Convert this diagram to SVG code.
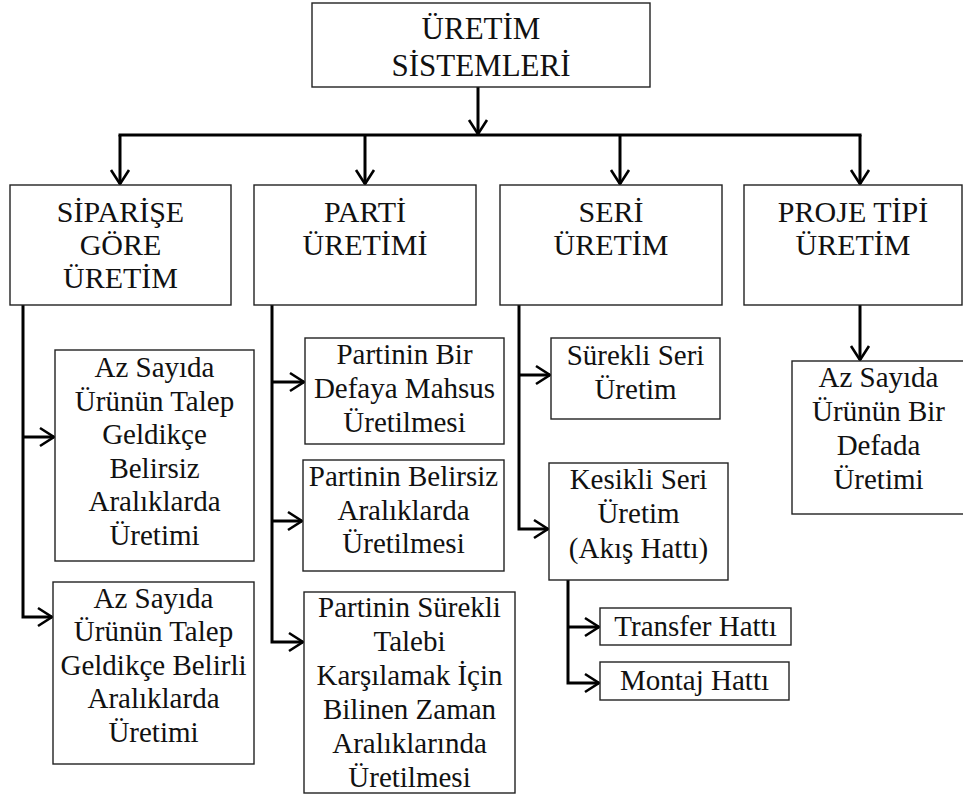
<svg xmlns="http://www.w3.org/2000/svg" width="963" height="798" viewBox="0 0 963 798">
  <style>
    .box { fill: #ffffff; stroke: #222222; stroke-width: 1.4; }
    text { font-family: "Liberation Serif", "Times New Roman", Times, Tinos, "Nimbus Roman", "Nimbus Roman No9 L", "Noto Serif", "DejaVu Serif", FreeSerif, serif; fill: #111111; text-anchor: middle; }
    .hd { font-size: 30px; }
    .tx { font-size: 29px; }
    .ln { fill: none; stroke: #000000; stroke-width: 3; }
    .br { fill: none; stroke: #000000; stroke-width: 3; stroke-linecap: square; }
  </style>
  <defs>
    <marker id="arr" markerUnits="userSpaceOnUse" viewBox="0 0 18 22" markerWidth="18" markerHeight="22" refX="16" refY="11" orient="auto">
      <path d="M2,2 L16,11 L2,20" fill="none" stroke="#000000" stroke-width="2.6"/>
    </marker>
  </defs>

  <!-- connectors -->
  <g id="connectors">
    <path class="ln" d="M478,87 V134" marker-end="url(#arr)"/>
    <path class="br" d="M120,135 H860"/>
    <path class="ln" d="M120,135 V184" marker-end="url(#arr)"/>
    <path class="ln" d="M365,135 V184" marker-end="url(#arr)"/>
    <path class="ln" d="M620,135 V184" marker-end="url(#arr)"/>
    <path class="ln" d="M860,135 V184" marker-end="url(#arr)"/>

    <path class="ln" d="M23,305 V617 H52" marker-end="url(#arr)"/>
    <path class="ln" d="M23,437 H54" marker-end="url(#arr)"/>

    <path class="ln" d="M272,305 V642 H303" marker-end="url(#arr)"/>
    <path class="ln" d="M272,382 H304" marker-end="url(#arr)"/>
    <path class="ln" d="M272,521 H302" marker-end="url(#arr)"/>

    <path class="ln" d="M519,305 V529 H548" marker-end="url(#arr)"/>
    <path class="ln" d="M519,375 H550" marker-end="url(#arr)"/>

    <path class="ln" d="M568,580 V683 H599" marker-end="url(#arr)"/>
    <path class="ln" d="M568,627 H599" marker-end="url(#arr)"/>

    <path class="ln" d="M860,305 V360" marker-end="url(#arr)"/>
  </g>

  <!-- root -->
  <g id="uretim-sistemleri">
    <rect class="box" x="312" y="3" width="338" height="84"/>
    <text class="hd" x="481" y="39" style="font-size:31px">ÜRETİM</text>
    <text class="hd" x="481" y="76" style="font-size:31px">SİSTEMLERİ</text>
  </g>

  <!-- main categories -->
  <g id="siparise-gore">
    <rect class="box" x="10" y="185" width="221" height="120"/>
    <text class="hd" x="120.5" y="222">SİPARİŞE</text>
    <text class="hd" x="120.5" y="255">GÖRE</text>
    <text class="hd" x="120.5" y="288">ÜRETİM</text>
  </g>
  <g id="parti-uretimi">
    <rect class="box" x="254" y="185" width="222" height="120"/>
    <text class="hd" x="365" y="222">PARTİ</text>
    <text class="hd" x="365" y="255">ÜRETİMİ</text>
  </g>
  <g id="seri-uretim">
    <rect class="box" x="500" y="185" width="222" height="120"/>
    <text class="hd" x="611" y="222">SERİ</text>
    <text class="hd" x="611" y="255">ÜRETİM</text>
  </g>
  <g id="proje-tipi">
    <rect class="box" x="744" y="185" width="218" height="120"/>
    <text class="hd" x="853" y="222">PROJE TİPİ</text>
    <text class="hd" x="853" y="255">ÜRETİM</text>
  </g>

  <!-- order-based -->
  <g id="belirsiz-araliklarda">
    <rect class="box" x="55" y="350" width="199" height="211"/>
    <text class="tx" x="154.5" y="377">Az Sayıda</text>
    <text class="tx" x="154.5" y="411">Ürünün Talep</text>
    <text class="tx" x="154.5" y="444">Geldikçe</text>
    <text class="tx" x="154.5" y="478">Belirsiz</text>
    <text class="tx" x="154.5" y="511">Aralıklarda</text>
    <text class="tx" x="154.5" y="545">Üretimi</text>
  </g>
  <g id="belirli-araliklarda">
    <rect class="box" x="53" y="582" width="201" height="182"/>
    <text class="tx" x="153.5" y="608">Az Sayıda</text>
    <text class="tx" x="153.5" y="641">Ürünün Talep</text>
    <text class="tx" x="153.5" y="675">Geldikçe Belirli</text>
    <text class="tx" x="153.5" y="708">Aralıklarda</text>
    <text class="tx" x="153.5" y="742">Üretimi</text>
  </g>

  <!-- batch -->
  <g id="bir-defaya-mahsus">
    <rect class="box" x="305" y="338" width="199" height="106"/>
    <text class="tx" x="404.5" y="364">Partinin Bir</text>
    <text class="tx" x="404.5" y="398">Defaya Mahsus</text>
    <text class="tx" x="404.5" y="432">Üretilmesi</text>
  </g>
  <g id="parti-belirsiz">
    <rect class="box" x="303" y="460" width="201" height="111"/>
    <text class="tx" x="403.5" y="486">Partinin Belirsiz</text>
    <text class="tx" x="403.5" y="520">Aralıklarda</text>
    <text class="tx" x="403.5" y="553">Üretilmesi</text>
  </g>
  <g id="parti-surekli">
    <rect class="box" x="304" y="592" width="211" height="201"/>
    <text class="tx" x="409.5" y="617">Partinin Sürekli</text>
    <text class="tx" x="409.5" y="651">Talebi</text>
    <text class="tx" x="409.5" y="685">Karşılamak İçin</text>
    <text class="tx" x="409.5" y="719">Bilinen Zaman</text>
    <text class="tx" x="409.5" y="753">Aralıklarında</text>
    <text class="tx" x="409.5" y="787">Üretilmesi</text>
  </g>

  <!-- series -->
  <g id="surekli-seri">
    <rect class="box" x="551" y="338" width="169" height="81"/>
    <text class="tx" x="635.5" y="365">Sürekli Seri</text>
    <text class="tx" x="635.5" y="399">Üretim</text>
  </g>
  <g id="kesikli-seri">
    <rect class="box" x="549" y="463" width="179" height="117"/>
    <text class="tx" x="638.5" y="489">Kesikli Seri</text>
    <text class="tx" x="638.5" y="523">Üretim</text>
    <text class="tx" x="638.5" y="558">(Akış Hattı)</text>
  </g>
  <g id="transfer-hatti">
    <rect class="box" x="600" y="608" width="191" height="37"/>
    <text class="tx" x="695.5" y="636">Transfer Hattı</text>
  </g>
  <g id="montaj-hatti">
    <rect class="box" x="600" y="662" width="189" height="38"/>
    <text class="tx" x="694.5" y="690">Montaj Hattı</text>
  </g>

  <!-- project -->
  <g id="bir-defada">
    <rect class="box" x="792" y="361" width="173" height="153"/>
    <text class="tx" x="878.5" y="387">Az Sayıda</text>
    <text class="tx" x="878.5" y="421">Ürünün Bir</text>
    <text class="tx" x="878.5" y="455">Defada</text>
    <text class="tx" x="878.5" y="489">Üretimi</text>
  </g>
</svg>
